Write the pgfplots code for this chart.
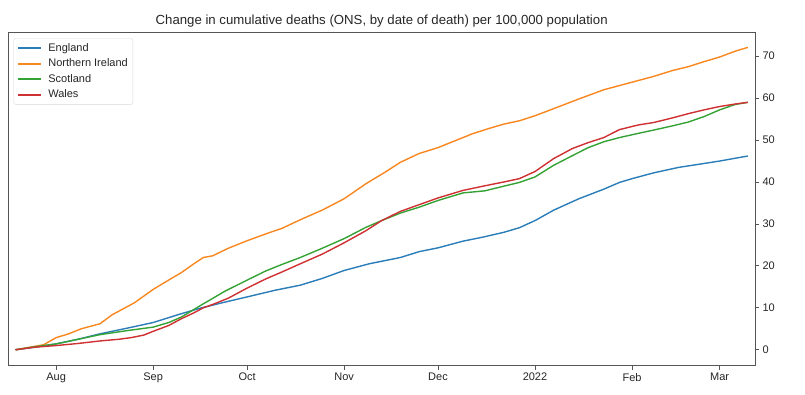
\documentclass[border=0pt]{standalone}
\usepackage{fontspec}
\setmainfont{Liberation Sans}
\usepackage{pgfplots}
\pgfplotsset{compat=1.18}
\definecolor{tabblue}{HTML}{2A7DB8}
\definecolor{taborange}{HTML}{F7871E}
\definecolor{tabgreen}{HTML}{35A235}
\definecolor{tabred}{HTML}{CF3032}
\definecolor{spine}{HTML}{555555}
\definecolor{txt}{HTML}{262626}
\begin{document}
\begin{tikzpicture}[x=1pt,y=1pt]
\path[use as bounding box] (-8.3,-29.3) rectangle (796.7,365.7);
\begin{axis}[
  at={(0,0)}, anchor=south west,
  scale only axis, width=746.7pt, height=333.4pt,
  xmin=-15.3, xmax=223.3, ymin=-3.8, ymax=75.7,
  xtick={0,31,61,92,122,153,184,212},
  xticklabels={Aug,Sep,Oct,Nov,Dec,2022,Feb,Mar},
  ytick={0,10,20,30,40,50,60,70},
  ytick pos=right, yticklabel pos=right, xtick pos=bottom,
  tick align=outside, major tick length=4pt,
  tick style={spine, line width=0.8pt},
  axis line style={spine, line width=1pt},
  tick label style={font=\fontsize{11}{13}\selectfont, text=txt},
  /pgf/number format/assume math mode=true,
  title={Change in cumulative deaths (ONS, by date of death) per 100,000 population},
  title style={font=\fontsize{13.2}{15}\selectfont, text=txt, yshift=-4pt},
  legend style={at={(0.007,0.982)}, anchor=north west, draw=black!15, rounded corners=2pt,
    font=\fontsize{11}{13}\selectfont, text=txt, row sep=2pt, inner sep=3pt},
  legend cell align=left,
  legend image code/.code={\draw[#1, line width=1.8pt] (0pt,0pt) -- (23pt,0pt); \path (28pt,0pt);},
  every axis plot/.append style={line width=1.4pt, line join=round},
]
\addplot[tabblue] coordinates {
(-13,0) (-7,0.6) (0,1.4) (7,2.5) (14,3.8) (23,5.2) (31,6.5) (40,8.6) (46,9.9) (53,11.2)
(61,12.6) (70,14.2) (78,15.4) (85,17.0) (92,18.9) (100,20.5) (110,22.0) (116,23.4) (122,24.3)
(130,25.9) (136,26.8) (143,28.0) (148,29.1) (153,30.8) (159,33.3) (167,36.0) (175,38.3)
(180,39.9) (184,40.8) (191,42.2) (199,43.5) (206,44.3) (212,45.0) (221,46.2)};
\addlegendentry{England}
\addplot[taborange] coordinates {
(-13,0) (-4,1.2) (0,2.9) (4,3.8) (8,5.0) (14,6.2) (18,8.4) (25,11.2) (31,14.4) (35,16.2)
(40,18.4) (44,20.5) (47,22.0) (50,22.4) (55,24.2) (61,26.0) (68,27.9) (72,28.9) (78,31.0)
(85,33.3) (92,36.0) (99,39.6) (105,42.3) (110,44.7) (116,46.8) (122,48.2) (128,50.0)
(133,51.5) (138,52.7) (143,53.8) (148,54.6) (153,55.8) (159,57.5) (167,59.8) (175,62.0)
(180,63.0) (184,63.8) (191,65.2) (197,66.6) (202,67.5) (207,68.7) (212,69.8) (217,71.2) (221,72.1)};
\addlegendentry{Northern Ireland}
\addplot[tabgreen] coordinates {
(-13,0) (-7,0.7) (0,1.4) (7,2.5) (14,3.6) (23,4.6) (31,5.4) (36,6.5) (40,7.8) (46,10.5)
(54,14.0) (61,16.6) (67,18.8) (72,20.3) (78,22.0) (85,24.2) (92,26.5) (99,29.2) (104,30.8)
(110,32.6) (116,34.0) (122,35.6) (130,37.4) (137,37.9) (143,39.0) (148,39.9) (153,41.2)
(159,44.0) (165,46.3) (170,48.2) (175,49.6) (180,50.6) (186,51.6) (191,52.4) (197,53.4)
(202,54.3) (207,55.6) (212,57.2) (217,58.5) (221,59.0)};
\addlegendentry{Scotland}
\addplot[tabred] coordinates {
(-13,0) (-7,0.6) (0,1.0) (7,1.5) (14,2.1) (20,2.5) (24,2.9) (28,3.5) (31,4.4) (36,5.8)
(40,7.4) (44,8.8) (47,10.0) (50,10.8) (55,12.3) (61,14.7) (67,16.9) (72,18.5) (78,20.5)
(85,22.8) (92,25.5) (99,28.4) (104,30.8) (110,33.0) (116,34.6) (122,36.2) (130,38.0)
(137,39.1) (143,40.0) (148,40.8) (153,42.5) (159,45.6) (165,48.0) (170,49.4) (175,50.6)
(180,52.5) (186,53.6) (191,54.2) (197,55.3) (202,56.3) (207,57.2) (212,58.0) (217,58.6) (221,59.0)};
\addlegendentry{Wales}
\end{axis}
\end{tikzpicture}
\end{document}
